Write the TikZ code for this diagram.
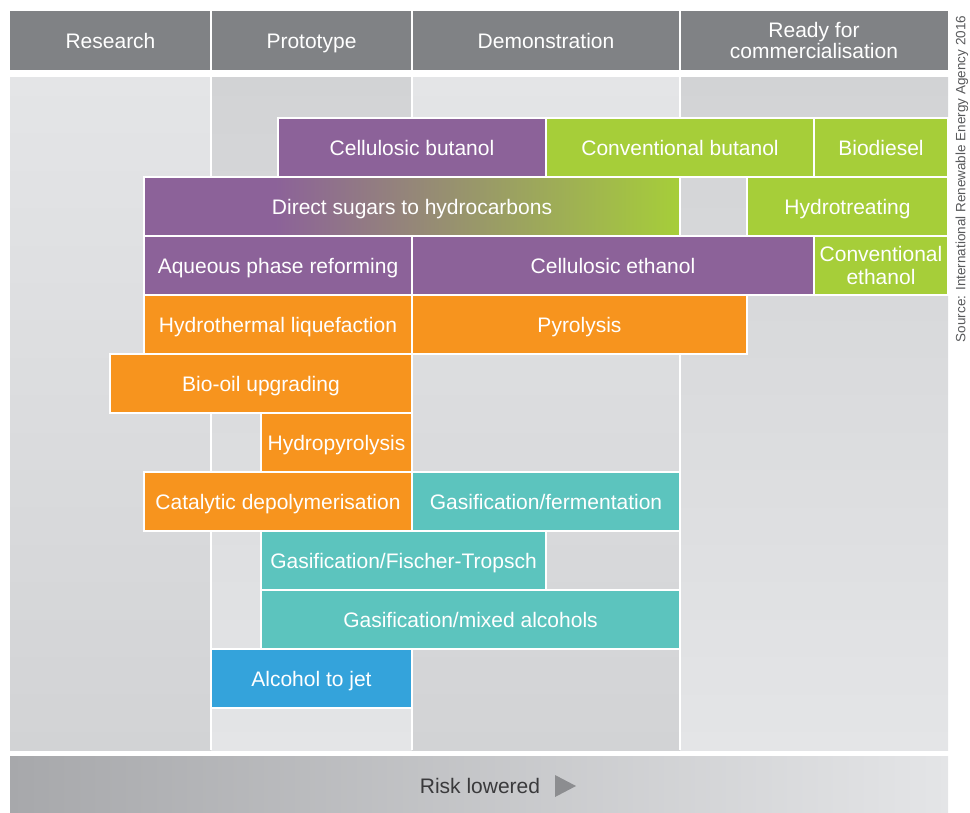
\documentclass[tikz,border=0pt]{standalone}
\usepackage{fontspec}
\setmainfont{Liberation Sans}
\definecolor{hdrgray}{HTML}{808285}
\definecolor{purp}{HTML}{8C6299}
\definecolor{grn}{HTML}{A6CE39}
\definecolor{orng}{HTML}{F7941E}
\definecolor{teal}{HTML}{5CC4BE}
\definecolor{blu}{HTML}{34A3DB}
\definecolor{collight}{HTML}{E4E5E7}
\definecolor{coldark}{HTML}{D2D3D5}
\definecolor{barleft}{HTML}{A7A8AB}
\definecolor{barright}{HTML}{E4E5E7}
\definecolor{risktext}{HTML}{3A3A3C}
\definecolor{tri}{HTML}{8C8D90}
\definecolor{srctext}{HTML}{58595B}
\begin{document}
\begin{tikzpicture}[x=1pt,y=-1pt,
  box/.style={draw=white,line width=1.3pt,text=white,inner sep=0pt,
    minimum height=59pt,text height=15pt,text depth=0pt,align=center,
    font=\fontsize{21}{23}\selectfont},
  twoline/.style={text height=38pt,text depth=0pt},
  hdr/.style={fill=hdrgray,draw=none,text=white,inner sep=0pt,
    minimum height=59pt,align=center,text height=15pt,text depth=0pt,
    font=\fontsize{21}{21}\selectfont},
  hdrtwo/.style={text height=36pt,text depth=0pt},
  sep/.style={white,line width=1.5pt}]
\useasboundingbox (0,0) rectangle (970,812);
% header
\node[hdr,minimum width=201pt] (hres) at (110.5,40.5) {Research};
\node[hdr,minimum width=201pt] (hpro) at (311.5,40.5) {Prototype};
\node[hdr,minimum width=268pt] (hdem) at (546,40.5) {Demonstration};
\node[hdr,hdrtwo,minimum width=268pt] (hrdy) at (814,40.5) {Ready for\\commercialisation};
\draw[sep] (hres.north east) -- (hres.south east);
\draw[sep] (hpro.north east) -- (hpro.south east);
\draw[sep] (hdem.north east) -- (hdem.south east);
% column backgrounds
\shade[top color=collight,bottom color=coldark] (10,77) rectangle (211,750);
\shade[top color=coldark,bottom color=collight] (211,77) rectangle (412,750);
\shade[top color=collight,bottom color=coldark] (412,77) rectangle (680,750);
\shade[top color=coldark,bottom color=collight] (680,77) rectangle (948,750);
\draw[sep] (211,77) -- (211,750);
\draw[sep] (412,77) -- (412,750);
\draw[sep] (680,77) -- (680,750);
% direct sugars gradient background
\fill[purp] (144,177) rectangle (275,236);
\shade[left color=purp,right color=grn] (275,177) rectangle (680,236);
% boxes
\node[box,fill=purp,minimum width=268pt] (cb) at (412,147.5) {Cellulosic butanol};
\node[box,fill=grn,minimum width=268pt] (convb) at (680,147.5) {Conventional butanol};
\node[box,fill=grn,minimum width=134pt] (bio) at (881,147.5) {Biodiesel};
\node[box,minimum width=536pt] (ds) at (412,206.5) {Direct sugars to hydrocarbons};
\node[box,fill=grn,minimum width=201pt] (ht) at (847.5,206.5) {Hydrotreating};
\node[box,fill=purp,minimum width=268pt] (apr) at (278,265.5) {Aqueous phase reforming};
\node[box,fill=purp,minimum width=402pt] (ce) at (613,265.5) {Cellulosic ethanol};
\node[box,twoline,fill=grn,minimum width=134pt] (conve) at (881,265.5) {Conventional\\ethanol};
\node[box,fill=orng,minimum width=268pt] (htl) at (278,324.5) {Hydrothermal liquefaction};
\node[box,fill=orng,minimum width=335pt] (pyr) at (579.5,324.5) {Pyrolysis};
\node[box,fill=orng,minimum width=302pt] (bou) at (261,383.5) {Bio-oil upgrading};
\node[box,fill=orng,minimum width=151pt] (hp) at (336.5,442.5) {Hydropyrolysis};
\node[box,fill=orng,minimum width=268pt] (cd) at (278,501.5) {Catalytic depolymerisation};
\node[box,fill=teal,minimum width=268pt] (gf) at (546,501.5) {Gasification/fermentation};
\node[box,fill=teal,minimum width=285pt] (gft) at (403.5,560.5) {Gasification/Fischer-Tropsch};
\node[box,fill=teal,minimum width=419pt] (gma) at (470.5,619.5) {Gasification/mixed alcohols};
\node[box,fill=blu,minimum width=201pt] (atj) at (311.5,678.5) {Alcohol to jet};
% bottom bar
\shade[left color=barleft,right color=barright] (10,756) rectangle (948,812);
\node[text=risktext,inner sep=0pt,text height=15pt,text depth=0pt,
  font=\fontsize{21}{22}\selectfont] (risk) at (480,786) {Risk lowered};
\fill[tri] (555,775) -- (576,786) -- (555,797) -- cycle;
% source
\node[text=srctext,rotate=90,inner sep=0pt,font=\fontsize{13.5}{14}\selectfont] (src) at (962,179) {Source: International Renewable Energy Agency 2016};
\end{tikzpicture}
\end{document}
